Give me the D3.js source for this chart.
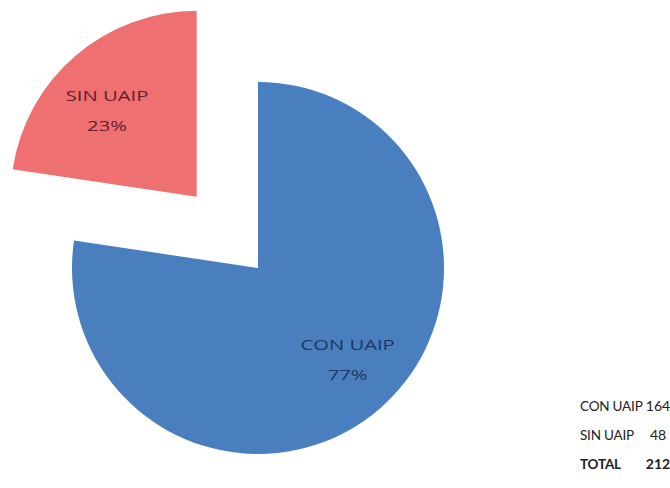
<!DOCTYPE html>
<html>
<head>
<meta charset="utf-8">
<script src="https://cdn.jsdelivr.net/npm/d3@7"></script>
<style>
  body { margin: 0; background: #fff; }
  text { font-family: "Open Sans", "Liberation Sans", sans-serif; }
</style>
</head>
<body>
<div id="chart"></div>
<script>
// data
var categories = ["CON UAIP", "SIN UAIP"];
var counts = [164, 48];
var percentLabels = ["77%", "23%"];
var totalLabel = "TOTAL";
var totalValue = 212;

var width = 670, height = 488;
var cx = 258, cy = 268, radius = 186;
var explode = [0, 94];            // how far each slice is pulled out
var colors = ["#4a7fbf", "#ef7070"];
var labelColors = ["#1f3560", "#5e2030"];

var svg = d3.select("#chart").append("svg")
    .attr("width", width)
    .attr("height", height);

var pie = d3.pie().sort(null).value(function(d) { return d; });
var arcs = pie(counts);

var arc = d3.arc().innerRadius(0).outerRadius(radius);

function offset(d, i) {
  var a = (d.startAngle + d.endAngle) / 2;
  return [cx + Math.sin(a) * explode[i], cy - Math.cos(a) * explode[i]];
}

// label spot: a bit before the mid angle, like the original
function labelPos(d) {
  var a = (d.startAngle + d.endAngle) / 2 - 0.08, r = 126;
  return [Math.sin(a) * r, -Math.cos(a) * r + 2];
}

var slices = svg.selectAll("g.slice")
  .data(arcs)
  .enter()
  .append("g")
    .attr("class", "slice")
    .attr("transform", function(d, i) { return "translate(" + offset(d, i) + ")"; });

slices.append("path")
    .attr("d", arc)
    .style("fill", function(d, i) { return colors[i]; });

// labels inside each slice (text in the picture is wide, so stretch it a bit)
var labels = slices.append("text")
    .attr("text-anchor", "middle")
    .attr("transform", function(d) { return "translate(" + labelPos(d) + ") scale(1.35,1)"; })
    .style("font-size", "15px")
    .style("fill", function(d, i) { return labelColors[i]; });

labels.append("tspan")
    .attr("x", 0)
    .attr("y", -9)
    .text(function(d, i) { return categories[i]; });
labels.append("tspan")
    .attr("x", 0)
    .attr("y", 21)
    .text(function(d, i) { return percentLabels[i]; });

// little table bottom right
var rows = categories.map(function(c, i) { return {name: c, value: counts[i], bold: false}; });
rows.push({name: totalLabel, value: totalValue, bold: true});

var table = svg.append("g");
table.selectAll("text.name")
  .data(rows)
  .enter()
  .append("text")
    .attr("class", "name")
    .attr("x", 580)
    .attr("y", function(d, i) { return 411 + i * 29; })
    .style("font-family", "Lato, 'Open Sans', sans-serif")
    .style("font-size", "13.5px")
    .style("letter-spacing", "-0.2px")
    .style("font-weight", function(d) { return d.bold ? "bold" : "normal"; })
    .style("fill", "#222")
    .text(function(d) { return d.name; });

table.selectAll("text.val")
  .data(rows)
  .enter()
  .append("text")
    .attr("class", "val")
    .attr("x", 658)
    .attr("y", function(d, i) { return 411 + i * 29; })
    .attr("text-anchor", "middle")
    .style("font-family", "Lato, 'Open Sans', sans-serif")
    .style("font-size", "14px")
    .style("font-weight", function(d) { return d.bold ? "bold" : "normal"; })
    .style("fill", "#222")
    .text(function(d) { return d.value; });
</script>
</body>
</html>
